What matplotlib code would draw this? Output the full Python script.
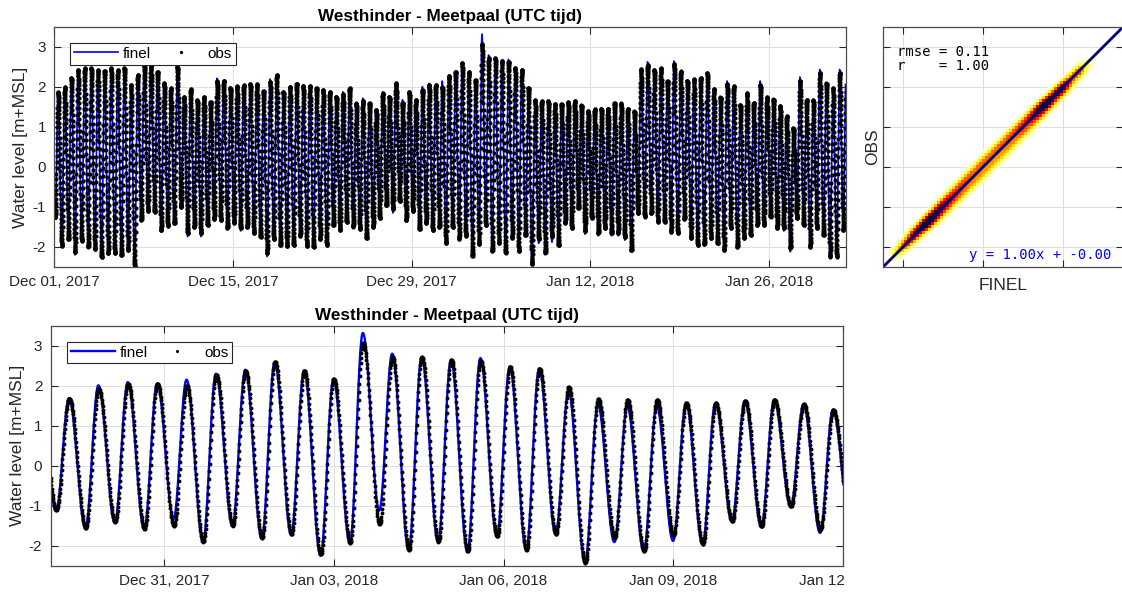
import numpy as np
import pandas as pd
import matplotlib
matplotlib.use("Agg")
import matplotlib.pyplot as plt
from matplotlib.colors import Normalize
from matplotlib.patches import Rectangle

plt.rcParams["font.family"] = ["Liberation Sans", "DejaVu Sans"]
plt.rcParams["axes.unicode_minus"] = False

title = "Westhinder - Meetpaal (UTC tijd)"

# high water of each tide and the low water that follows it [m+MSL]
finel_high = [1.87, 1.99, 2.23, 2.43, 2.47, 2.47, 2.42, 2.40, 2.47, 2.42,
              2.47, 2.05, 2.30, 2.55, 2.55, 2.38, 2.09, 1.97, 2.50, 1.75,
              1.94, 1.67, 1.75, 1.63, 2.22, 2.16, 1.98, 2.02, 2.04, 2.08,
              2.07, 1.90, 2.20, 2.31, 1.88, 2.01, 2.08, 2.03, 2.03, 1.97,
              1.93, 1.88, 1.76, 1.88, 1.97, 1.59, 1.72, 1.59, 1.43, 1.88,
              1.76, 2.09, 1.68, 1.88, 1.69, 2.01, 2.09, 2.06, 2.15, 2.30,
              2.40, 2.60, 2.38, 2.17, 3.32, 2.80, 2.72, 2.65, 2.69, 2.48,
              2.43, 1.86, 1.52, 1.48, 1.50, 1.57, 1.57, 1.62, 1.65, 1.54,
              1.40, 1.44, 1.46, 1.46, 1.59, 1.59, 1.46, 1.39, 2.44, 2.63,
              2.43, 2.47, 2.15, 2.65, 2.39, 2.16, 2.19, 2.23, 2.35, 1.95,
              1.74, 2.15, 2.02, 1.55, 1.85, 1.60, 2.15, 1.74, 1.69, 1.52,
              1.27, 0.97, 2.25, 1.67, 1.67, 2.44, 2.09, 1.97, 2.44, 2.72]
finel_low = [-1.97, -1.80, -2.20, -1.85, -1.99, -2.05, -2.25, -2.16, -2.16, -2.20,
             -2.08, -2.52, -1.32, -1.10, -1.12, -1.58, -1.47, -1.45, -1.00, -1.74,
             -1.50, -1.74, -1.45, -1.30, -1.32, -1.45, -1.40, -1.60, -1.50, -1.65,
             -1.75, -2.24, -1.80, -1.95, -1.98, -1.95, -1.72, -1.98, -2.00, -1.80,
             -1.95, -1.45, -1.58, -1.37, -1.49, -1.55, -1.78, -1.50, -1.28, -0.95,
             -1.15, -0.85, -1.33, -1.14, -1.56, -1.43, -1.58, -1.32, -1.90, -1.50,
             -1.82, -1.72, -2.25, -1.93, -1.12, -2.10, -1.90, -2.14, -1.77, -2.10,
             -1.71, -2.43, -1.91, -2.14, -1.88, -1.96, -1.39, -1.52, -1.02, -1.68,
             -1.27, -1.72, -1.53, -1.72, -1.72, -1.83, -2.08, -1.16, -1.24, -1.16,
             -1.37, -1.37, -1.62, -1.66, -1.30, -1.78, -1.95, -1.93, -1.78, -1.91,
             -2.08, -1.53, -2.00, -1.78, -1.70, -1.45, -1.45, -1.24, -1.45, -1.60,
             -2.12, -1.28, -1.45, -2.00, -1.53, -1.70, -2.24, -2.24, -1.58, -1.60]
obs_high = [1.87, 1.99, 2.23, 2.43, 2.47, 2.47, 2.42, 2.40, 2.47, 2.42,
            2.47, 2.05, 2.30, 2.55, 2.55, 2.38, 2.09, 1.97, 2.50, 1.75,
            1.94, 1.67, 1.75, 1.63, 2.15, 2.16, 1.98, 2.02, 2.04, 2.08,
            2.07, 1.90, 2.13, 2.31, 1.88, 2.01, 2.08, 2.03, 2.03, 1.97,
            1.93, 1.88, 1.76, 1.82, 1.97, 1.59, 1.66, 1.59, 1.43, 1.84,
            1.76, 2.09, 1.60, 1.88, 1.68, 1.92, 2.05, 2.05, 2.00, 2.28,
            2.38, 2.60, 2.38, 2.17, 3.07, 2.72, 2.72, 2.65, 2.63, 2.48,
            2.43, 1.98, 1.67, 1.65, 1.65, 1.57, 1.57, 1.62, 1.65, 1.54,
            1.40, 1.44, 1.46, 1.46, 1.59, 1.59, 1.46, 1.39, 2.44, 2.55,
            2.43, 2.47, 2.15, 2.58, 2.39, 2.16, 2.19, 2.23, 2.35, 1.95,
            1.74, 2.08, 2.02, 1.55, 1.85, 1.60, 2.06, 1.74, 1.69, 1.52,
            1.27, 0.97, 2.16, 1.67, 1.67, 2.36, 2.09, 1.97, 2.36, 2.65]
obs_low = [-1.97, -1.80, -2.13, -1.85, -1.99, -2.05, -2.25, -2.16, -2.16, -2.20,
           -2.08, -2.52, -1.32, -1.10, -1.12, -1.58, -1.47, -1.40, -1.00, -1.66,
           -1.50, -1.66, -1.45, -1.30, -1.32, -1.52, -1.40, -1.52, -1.50, -1.65,
           -1.75, -2.15, -1.80, -1.95, -1.98, -1.95, -1.72, -1.98, -2.00, -1.80,
           -1.95, -1.45, -1.58, -1.37, -1.49, -1.55, -1.78, -1.50, -1.28, -0.95,
           -1.05, -0.85, -1.33, -1.10, -1.56, -1.40, -1.58, -1.50, -1.90, -1.50,
           -1.80, -1.72, -2.22, -1.93, -1.46, -2.10, -1.90, -2.14, -1.77, -2.10,
           -1.71, -2.43, -1.80, -2.14, -1.74, -1.96, -1.39, -1.52, -1.02, -1.60,
           -1.27, -1.65, -1.53, -1.65, -1.65, -1.75, -2.08, -1.16, -1.24, -1.16,
           -1.37, -1.37, -1.62, -1.66, -1.30, -1.78, -1.95, -1.93, -1.78, -1.91,
           -2.08, -1.53, -2.00, -1.78, -1.70, -1.45, -1.45, -1.24, -1.52, -1.52,
           -2.02, -1.28, -1.45, -2.00, -1.53, -1.70, -2.24, -2.24, -1.58, -1.60]
first_low = -1.25          # low water before the first high water

first_high = pd.Timestamp("2017-12-01 07:08")
tide_period_h = 12.456
ebb_fraction = 0.56        # share of the tide spent falling
obs_lag_min = 9

t_start, t_end = pd.Timestamp("2017-12-01"), pd.Timestamp("2018-02-01")
zoom_start, zoom_end = pd.Timestamp("2017-12-29"), pd.Timestamp("2018-01-12")
top_ticks = ["2017-12-01", "2017-12-15", "2017-12-29", "2018-01-12", "2018-01-26"]
bottom_ticks = ["2017-12-31", "2018-01-03", "2018-01-06", "2018-01-09", "2018-01-12"]

stats_text = "rmse = 0.11\nr    = 1.00"
fit_slope, fit_offset = 1.00, -0.00


def tide_curve(hours, highs, lows):
    """Join successive high/low waters with half-cosine segments."""
    off = (first_high - t_start) / pd.Timedelta(hours=1)
    k = np.arange(len(highs))
    t_hw = off + k * tide_period_h
    t_lw = t_hw + ebb_fraction * tide_period_h
    ext_t = np.r_[off - (1 - ebb_fraction) * tide_period_h, np.column_stack([t_hw, t_lw]).ravel()]
    ext_v = np.r_[first_low, np.column_stack([highs, lows]).ravel()]
    i = np.clip(np.searchsorted(ext_t, hours, side="right") - 1, 0, len(ext_t) - 2)
    s = np.clip((hours - ext_t[i]) / (ext_t[i + 1] - ext_t[i]), 0, 1)
    return ext_v[i] + (ext_v[i + 1] - ext_v[i]) * (1 - np.cos(np.pi * s)) / 2


hours = np.arange(0, (t_end - t_start) / pd.Timedelta(hours=1) + 1e-6, 1 / 6)
times = t_start + pd.to_timedelta(hours, unit="h")
finel = tide_curve(hours, finel_high, finel_low)
obs = tide_curve(hours - obs_lag_min / 60, obs_high, obs_low)

W, H = 1122, 592
fig = plt.figure(figsize=(W / 100, H / 100), dpi=100)
ax1 = fig.add_axes([54.3 / W, 1 - 267 / H, 791.2 / W, 240 / H])
ax2 = fig.add_axes([50.7 / W, 1 - 565.7 / H, 792.6 / W, 240 / H])
ax3 = fig.add_axes([883.3 / W, 1 - 266.7 / H, 240 / W, 240 / H])

dark = "#262626"


def style(ax):
    ax.set_ylim(-2.5, 3.5)
    ax.set_yticks(range(-2, 4))
    ax.grid(True, color="#dedede", lw=0.7)
    ax.set_axisbelow(True)
    ax.tick_params(direction="in", length=5, width=0.8, top=True, right=True,
                   colors=dark, labelsize=11, pad=6)
    for sp in ax.spines.values():
        sp.set_color("#4d4d4d")
        sp.set_linewidth(0.9)


for ax, lo, hi, ticks, lw, ms in [(ax1, t_start, t_end, top_ticks, 1.2, 3.0),
                                  (ax2, zoom_start, zoom_end, bottom_ticks, 1.7, 2.8)]:
    sel = (times >= lo) & (times <= hi)
    ax.plot(times[sel], finel[sel], color="#0000ff", lw=lw, label="finel")
    ax.plot(times[sel], obs[sel], "o", ms=ms, mfc="k", mec="none", label="obs")
    ax.set_xlim(lo, hi)
    tick_dates = pd.to_datetime(ticks)
    ax.set_xticks(tick_dates)
    ax.set_xticklabels([d.strftime("%b %d, %Y") for d in tick_dates])
    style(ax)
    ax.set_title(title, fontsize=12.3, fontweight="bold", color="k", pad=4)
    ax.set_ylabel("Water level [m+MSL]", fontsize=12.5, color=dark, labelpad=3)
    leg = ax.legend(ncol=2, loc="upper left", bbox_to_anchor=(16 / 791, 1 - 16 / 240),
                    borderaxespad=0, fancybox=False, edgecolor=dark, framealpha=1,
                    handlelength=2.9, handletextpad=0.3, columnspacing=0.5,
                    borderpad=0.25, fontsize=11, markerscale=0.8)
    leg.get_frame().set_linewidth(0.8)

# smoothed density of model vs observation pairs
edges = np.linspace(-2.5, 3.5, 81)
counts, _, _ = np.histogram2d(finel, obs, bins=[edges, edges])
kern = np.exp(-0.5 * (np.arange(-3, 4) / 1.0) ** 2)
kern /= kern.sum()
dens = np.apply_along_axis(np.convolve, 0, counts, kern, mode="same")
dens = np.apply_along_axis(np.convolve, 1, dens, kern, mode="same")
dens = np.ma.masked_less(dens.T, dens.max() * 0.03)
ax3.pcolormesh(edges, edges, dens, cmap="hot_r",
               norm=Normalize(vmin=0, vmax=dens.max() * 0.8))
line_x = np.array([-2.5, 3.5])
ax3.plot(line_x, fit_slope * line_x + fit_offset, color="#000080", lw=2)
ax3.set_xlim(-2.5, 3.5)
ax3.set_xticks([-2, 0, 2])
style(ax3)
ax3.set_xticklabels([])
ax3.set_yticklabels([])
ax3.set_xlabel("FINEL", fontsize=12.5, color=dark, labelpad=2)
ax3.set_ylabel("OBS", fontsize=12.5, color=dark, labelpad=-4)
ax3.text(0.057, 0.925, stats_text, transform=ax3.transAxes, ha="left", va="top",
         family="DejaVu Sans Mono", fontsize=10, color="k", linespacing=1.0)
ax3.text(0.952, 0.049, f"y = {fit_slope:.2f}x + {fit_offset:.2f}".replace("+ 0.00", "+ -0.00"),
         transform=ax3.transAxes, ha="right", va="center",
         family="DejaVu Sans Mono", fontsize=10, color="#0000ff")

# blank strip to the right of the lower panel
fig.add_artist(Rectangle((844 / W, 0), 1 - 844 / W, (H - 568) / H, transform=fig.transFigure,
                         facecolor="white", edgecolor="none", zorder=10))

fig.savefig("out.png", dpi=100)
